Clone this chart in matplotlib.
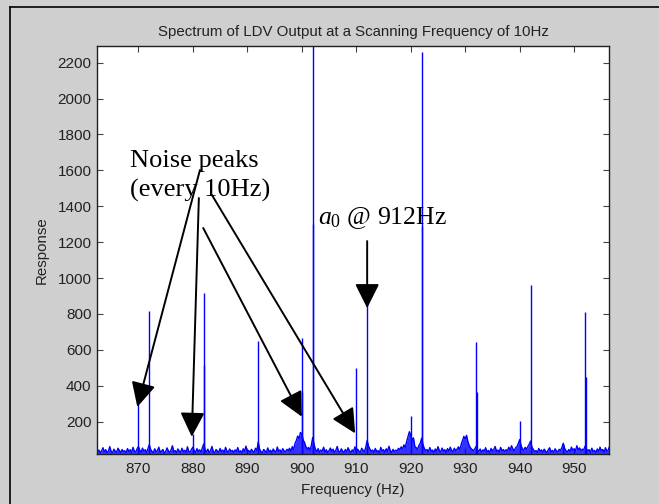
import numpy as np
import matplotlib.pyplot as plt
from matplotlib.lines import Line2D

plt.rcParams.update({"font.family": "Liberation Sans", "font.size": 11,
                     "mathtext.fontset": "custom",
                     "mathtext.rm": "Liberation Serif",
                     "mathtext.it": "Liberation Serif:italic"})

# ── Data ──────────────────────────────────────────────────────────────────────
# noise floor, 0.25 Hz steps starting at 862.5 Hz (one row = 5 Hz)
noise_start = 862.5
noise_step = 0.25
noise = [
    30, 42, 26, 38, 55, 31, 44, 28, 36, 61, 33, 27, 47, 35, 29, 52, 40, 26, 45, 34,
    38, 28, 50, 33, 44, 26, 57, 36, 30, 48, 62, 41, 29, 53, 35, 44, 27, 50, 72, 46,
    34, 27, 49, 31, 40, 58, 29, 37, 45, 26, 33, 54, 38, 28, 43, 66, 32, 39, 27, 48,
    36, 29, 52, 33, 41, 27, 60, 35, 30, 46, 58, 39, 28, 50, 34, 43, 30, 55, 76, 44,
    31, 47, 28, 39, 62, 34, 26, 45, 37, 29, 51, 33, 42, 27, 57, 36, 30, 48, 35, 40,
    28, 43, 34, 56, 30, 38, 27, 49, 35, 64, 31, 40, 28, 46, 36, 30, 52, 39, 88, 47,
    33, 26, 45, 37, 29, 54, 32, 41, 27, 48, 36, 30, 59, 34, 43, 28, 50, 37, 31, 46,
    39, 52, 34, 61, 45, 78, 96, 120, 105, 140, 132, 98, 84, 60, 48, 57, 41, 68, 112, 74,
    46, 33, 50, 29, 42, 36, 58, 31, 44, 27, 39, 53, 34, 47, 28, 41, 62, 35, 30, 49,
    36, 28, 45, 32, 55, 38, 27, 43, 34, 60, 30, 47, 36, 29, 52, 40, 33, 58, 95, 64,
    48, 35, 42, 29, 51, 33, 39, 27, 57, 36, 44, 30, 49, 35, 63, 38, 28, 46, 34, 41,
    37, 52, 43, 60, 48, 71, 58, 90, 118, 144, 126, 95, 110, 62, 55, 47, 68, 80, 108, 72,
    50, 38, 45, 31, 56, 36, 42, 28, 48, 34, 61, 39, 30, 53, 37, 44, 29, 50, 35, 58,
    40, 33, 52, 38, 47, 60, 44, 72, 96, 118, 105, 124, 88, 66, 53, 45, 39, 48, 62, 41,
    35, 48, 29, 43, 36, 55, 31, 40, 27, 51, 37, 46, 62, 34, 42, 30, 57, 38, 45, 33,
    44, 36, 58, 40, 66, 48, 38, 55, 61, 79, 100, 68, 49, 42, 57, 46, 61, 74, 92, 58,
    45, 33, 39, 28, 51, 35, 43, 30, 47, 36, 27, 44, 55, 32, 40, 29, 49, 37, 31, 46,
    40, 56, 80, 52, 38, 30, 45, 34, 58, 41, 49, 36, 66, 43, 54, 38, 47, 42, 63, 50,
    36, 44, 29, 52, 34, 40, 27, 48, 33, 58, 38, 45, 30, 55, 36, 42, 62, 39, 47, 35,
]
# discrete peaks (Hz, response); double entries are neighbouring bins
peak_freq = [870.0, 872.0, 880.0, 882.0, 882.1, 892.0, 900.0, 900.1,
             902.0, 902.1, 910.0, 912.0, 920.0, 922.0, 922.1, 932.0,
             932.1, 940.0, 942.0, 948.0, 952.0, 952.1]
peak_resp = [300, 815, 130, 915, 515, 650, 665, 365,
             2293, 1300, 500, 870, 230, 2260, 1290, 642,
             365, 205, 962, 78, 812, 448]

x_ticks = [870, 880, 890, 900, 910, 920, 930, 940, 950]
y_ticks = [200, 400, 600, 800, 1000, 1200, 1400, 1600, 1800, 2000, 2200]

# ── Figure ────────────────────────────────────────────────────────────────────
fig = plt.figure(figsize=(6.59, 5.04), dpi=100)
fig.patch.set_facecolor("#cfcfcf")
ax = fig.add_axes([97 / 659, 1 - 454 / 504, 512 / 659, 408 / 504])
ax.set_facecolor("white")

freq = noise_start + noise_step * np.arange(len(noise))
ax.fill_between(freq, 20, noise, color="#0000ff", lw=0, alpha=0.8, zorder=2)
ax.plot(freq, noise, color="#0000ff", lw=1.0, zorder=2)
ax.vlines(peak_freq, 20, peak_resp, color="#0000ff", lw=1.0, zorder=3)

ax.set_xlim(862.4, 956.4)
ax.set_ylim(20, 2293)
ax.set_xticks(x_ticks)
ax.set_yticks(y_ticks)
ax.tick_params(direction="in", length=4, top=True, right=True,
               labelsize=11, labelcolor="#222", color="#444")
ax.tick_params(axis="x", pad=6)
ax.tick_params(axis="y", pad=4)
for s in ax.spines.values():
    s.set_color("#202020")
    s.set_linewidth(1.0)

ax.set_title("Spectrum of LDV Output at a Scanning Frequency of 10Hz",
             fontsize=10.8, color="#222", pad=7)
ax.set_xlabel("Frequency (Hz)", fontsize=10.8, color="#222", labelpad=5)
ax.set_ylabel("Response", fontsize=10.8, color="#222", labelpad=6)

# ── Annotations ───────────────────────────────────────────────────────────────
serif = "Liberation Serif"
ax.text(868.5, 1570, "Noise peaks\n(every 10Hz)", family=serif, fontsize=19,
        ha="left", va="center", linespacing=1.4, zorder=6)
ax.text(903.0, 1334, "$a_0$ @ 912Hz", family=serif, fontsize=18.5,
        ha="left", va="center", zorder=6)

head = dict(arrowstyle="-|>,head_length=1.0,head_width=0.5",
            color="black", lw=1.4, mutation_scale=15, shrinkA=0, shrinkB=0)
arrows = [((881.3, 1602), (869.8, 282)),
          ((881.1, 1446), (879.8, 116)),
          ((881.9, 1279), (900.0, 228)),
          ((883.5, 1463), (909.8, 135)),
          ((912.0, 1206), (912.0, 833))]
for tail, tip in arrows:
    ax.annotate("", xy=tip, xytext=tail, arrowprops=head, zorder=5)

# outer frame (top and left only, as in the screenshot)
fig.add_artist(Line2D([10 / 659, 1], [1 - 7 / 504, 1 - 7 / 504],
                      color="black", lw=1.2, transform=fig.transFigure))
fig.add_artist(Line2D([10 / 659, 10 / 659], [0, 1 - 7 / 504],
                      color="black", lw=1.2, transform=fig.transFigure))

fig.savefig("out.png", dpi=100, facecolor=fig.get_facecolor())
